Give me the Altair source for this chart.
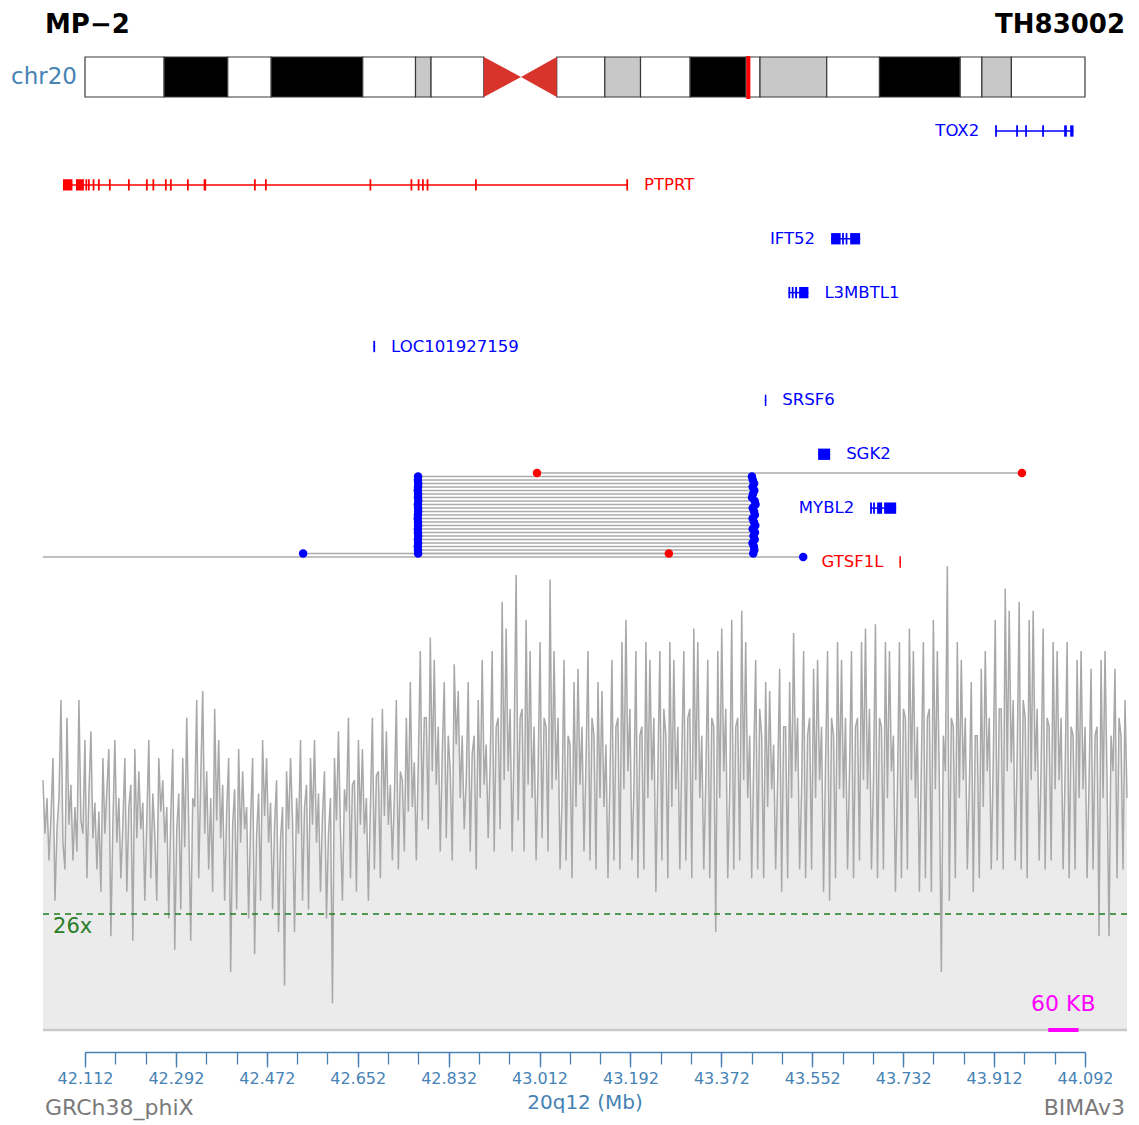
import altair as alt
import numpy as np
import pandas as pd

W, H = 1139, 1125
FONT = "DejaVu Sans"
STEEL = "#4682b4"

# ---------------- chromosome 20 ideogram (Mb) ----------------
band_start = [0.0, 5.1, 9.2, 12.0, 17.9, 21.3, 22.3, 30.4, 33.5, 35.8, 39.0, 42.6, 43.5, 47.8, 51.2, 56.4, 57.8, 59.7]
band_end = [5.1, 9.2, 12.0, 17.9, 21.3, 22.3, 25.7, 33.5, 35.8, 39.0, 42.6, 43.5, 47.8, 51.2, 56.4, 57.8, 59.7, 64.444]
band_stain = ["gneg", "gpos75", "gneg", "gpos75", "gneg", "gpos25", "gneg", "gneg", "gpos25",
              "gneg", "gpos75", "gneg", "gpos25", "gneg", "gpos75", "gneg", "gpos25", "gneg"]
stain_color = {"gneg": "#ffffff", "gpos25": "#c8c8c8", "gpos75": "#000000"}
cen_pos = [25.7, 28.1, 30.4]          # centromere: p-arm edge, waist, q-arm edge
region_mark = 42.75                   # displayed region on the ideogram
chrom_len = 64.444

# ---------------- genes (Mb) ----------------
genes = ["TOX2", "PTPRT", "IFT52", "L3MBTL1", "LOC101927159", "SRSF6", "SGK2", "MYBL2", "GTSF1L"]
gene_lane = [0, 1, 2, 3, 4, 5, 6, 7, 8]
gene_start = [43.9140, 42.0685, 43.5892, 43.5047, 42.6830, 43.4580, 43.5635, 43.6665, 43.7245]
gene_end = [44.0691, 43.1873, 43.6467, 43.5443, 42.6865, 43.4610, 43.5873, 43.7180, 43.7275]
gene_strand = ["+", "-", "+", "+", "+", "+", "+", "+", "-"]
label_side = ["left", "right", "left", "right", "right", "right", "right", "left", "left"]
exons = {
    "TOX2": [(43.9140, 43.9175), (43.9556, 43.9591), (43.9734, 43.9769), (44.0071, 44.0106),
             (44.0506, 44.0559), (44.0625, 44.0691)],
    "PTPRT": [(42.0685, 42.0873), (42.0942, 42.1100), (42.1130, 42.1165), (42.1180, 42.1215),
              (42.1273, 42.1308), (42.1378, 42.1413), (42.1595, 42.1630), (42.1972, 42.2007),
              (42.2328, 42.2363), (42.2457, 42.2492), (42.2704, 42.2739), (42.2803, 42.2838),
              (42.3140, 42.3175), (42.3470, 42.3520), (42.4467, 42.4502), (42.4685, 42.4720),
              (42.6754, 42.6789), (42.7566, 42.7601), (42.7708, 42.7743), (42.7793, 42.7828),
              (42.7885, 42.7920), (42.8843, 42.8878), (43.1838, 43.1873)],
    "IFT52": [(43.5892, 43.6081), (43.6110, 43.6145), (43.6180, 43.6215), (43.6269, 43.6467)],
    "L3MBTL1": [(43.5047, 43.5082), (43.5114, 43.5149), (43.5180, 43.5219), (43.5259, 43.5443)],
    "LOC101927159": [(42.6830, 42.6865)],
    "SRSF6": [(43.4580, 43.4610)],
    "SGK2": [(43.5635, 43.5873)],
    "MYBL2": [(43.6665, 43.6700), (43.6724, 43.6759), (43.6803, 43.6902), (43.6942, 43.7180)],
    "GTSF1L": [(43.7245, 43.7275)],
}

# ---------------- read pairs (Mb) ----------------
pair_row = [0] + list(range(1, 24)) + [23, 24]
pair_start = [43.007,
              42.7715, 42.7712, 42.7718, 42.7714, 42.7710, 42.7716, 42.7713, 42.7719, 42.7711,
              42.7715, 42.7717, 42.7712, 42.7709, 42.7714, 42.7716, 42.7711, 42.7713, 42.7718,
              42.7712, 42.7715, 42.7710, 42.7714, 42.7716,
              42.544, 42.029]
pair_end = [43.967,
            43.4325, 43.4342, 43.4368, 43.4339, 43.4372, 43.4345, 43.4327, 43.4380, 43.4396,
            43.4341, 43.4367, 43.4383, 43.4338, 43.4364, 43.4391, 43.4340, 43.4385, 43.4356,
            43.4379, 43.4336, 43.4363, 43.4372, 43.4351,
            43.268, 43.534]
pair_left_end = ["red"] + ["blue"] * 23 + ["blue", "none"]
pair_right_end = ["red"] + ["blue"] * 23 + ["red", "blue"]

# ---------------- read depth (x), evenly spaced bins ----------------
cov_first, cov_last = 42.029, 44.175
depth = [
    56, 44, 52, 38, 48, 61, 29, 45, 52, 74, 42, 36, 70, 46, 55, 38, 50, 40, 74, 47,
    44, 65, 34, 53, 67, 43, 51, 36, 49, 31, 61, 44, 54, 63, 21, 46, 65, 42, 52, 34,
    46, 61, 31, 50, 55, 20, 63, 43, 58, 45, 51, 29, 47, 65, 34, 53, 44, 29, 61, 49,
    56, 42, 50, 25, 48, 63, 18, 45, 53, 27, 61, 41, 70, 46, 20, 52, 50, 74, 34, 56,
    76, 44, 58, 36, 52, 31, 72, 47, 65, 43, 55, 29, 49, 61, 13, 46, 54, 27, 63, 42,
    58, 45, 50, 25, 47, 61, 17, 44, 53, 29, 65, 48, 61, 42, 51, 27, 46, 56, 22, 43,
    50, 10, 58, 45, 61, 47, 22, 52, 44, 65, 29, 50, 55, 27, 61, 46, 65, 42, 53, 31,
    48, 58, 25, 44, 52, 6, 61, 47, 67, 45, 29, 54, 49, 70, 34, 55, 56, 31, 65, 46,
    63, 44, 52, 29, 50, 70, 36, 57, 58, 34, 72, 48, 67, 46, 55, 38, 52, 74, 36, 58,
    56, 40, 70, 49, 78, 50, 60, 38,
    60, 85, 47, 70, 70, 45, 88, 58, 83, 55, 68, 40, 62, 78, 43, 66, 58, 38, 82, 64,
    76, 52, 66, 45, 56, 78, 40, 62, 66, 36, 74, 52, 83, 55, 64, 43, 60, 85, 40, 68,
    70, 45, 96, 56, 90, 58, 72, 40, 64, 102, 47, 70, 72, 40, 92, 55, 85, 52, 68, 38,
    58, 87, 43, 70, 68, 40, 101, 54, 85, 56, 70, 36, 52, 83, 38, 66, 64, 34, 78, 50,
    81, 55, 68, 40, 60, 85, 38, 70, 66, 36, 78, 52, 76, 50, 64, 34, 56, 83, 38, 68,
    70, 36, 87, 54, 92, 58, 72, 38, 54, 85, 34, 66, 68, 36, 87, 52, 83, 56, 70, 31,
    58, 85, 38, 72, 66, 34, 87, 50, 83, 54, 68, 36, 62, 85, 38, 70, 72, 34, 90, 56,
    87, 52, 66, 36, 56, 83, 34, 70, 68, 22, 85, 52, 90, 58, 72, 34, 54, 92, 36, 68,
    70, 38, 94, 56, 87, 52, 66, 34, 60, 83, 36, 72, 66, 34, 78, 50, 76, 54, 64, 36,
    56, 81, 31, 68, 68, 34, 78, 52, 89, 58, 70, 36, 54, 85, 34, 66, 70, 36, 81, 52,
    83, 56, 68, 31, 60, 85, 29, 70, 66, 34, 87, 54, 83, 52, 70, 36, 58, 85, 34, 68,
    70, 38, 87, 56, 90, 54, 72, 36, 56, 91, 34, 70, 68, 36, 87, 52, 85, 58, 66, 31,
    54, 87, 34, 72, 70, 36, 90, 56, 85, 52, 68, 31, 60, 87, 34, 70, 72, 31, 92, 54,
    85, 56, 13, 66, 58, 104, 29, 70, 68, 34, 87, 52, 83, 56, 70, 36, 54, 78, 31, 66,
    66, 34, 81, 50, 85, 58, 70, 36, 60, 92, 38, 72, 72, 36, 99, 58, 94, 60, 74, 38,
    62, 96, 36, 74, 70, 34, 92, 56, 94, 58, 72, 38, 60, 90, 36, 70, 68, 38, 87, 54,
    85, 56, 70, 36, 58, 87, 34, 68, 66, 36, 83, 52, 85, 54, 68, 34, 56, 81, 36, 66,
    68, 21, 83, 52, 85, 56, 21, 66, 58, 81, 34, 70, 66, 36, 74, 52,
]
min_depth = 26
scale_bar_start, scale_bar_kb = 44.019, 60

# ---------------- axis ----------------
axis_first, axis_last = 42.112, 44.092
major_ticks = [42.112, 42.292, 42.472, 42.652, 42.832, 43.012, 43.192, 43.372, 43.552, 43.732, 43.912, 44.092]
minor_step = 0.06

# ---------------- scales ----------------
ideo_x = alt.Scale(domain=[0, chrom_len], range=[85, 1085])
ideo_y = alt.Scale(domain=[0, 1], range=[57, 97])
gx = alt.Scale(domain=[cov_first, cov_last], range=[43, 1127])
lane_y = alt.Scale(domain=[0, 8], range=[131, 562])
row_y = alt.Scale(domain=[0, 24], range=[473, 557])
cov_y = alt.Scale(domain=[0, 105], range=[1030, 561.7])
axis_x = alt.Scale(domain=[axis_first, axis_last], range=[85, 1085])


def qx(field, scale):
    return alt.X(field, type="quantitative", scale=scale, axis=None)


def qy(field, scale):
    return alt.Y(field, type="quantitative", scale=scale, axis=None)


layers = []

# ideogram bands
bands = pd.DataFrame({"start": band_start, "end": band_end,
                      "fill": [stain_color[s] for s in band_stain]})
layers.append(
    alt.Chart(bands).mark_rect(stroke="#3a3a3a", strokeWidth=1.2).encode(
        x=qx("start", ideo_x), x2="end",
        y=alt.YDatum(0, type="quantitative", scale=ideo_y, axis=None), y2=alt.Y2Datum(1),
        color=alt.Color("fill:N", scale=None))
)
cen = pd.DataFrame({"pos": cen_pos, "top": [0, 0.5, 0], "bottom": [1, 0.5, 1]})
layers.append(
    alt.Chart(cen).mark_area(color="#d9342b", interpolate="linear").encode(
        x=qx("pos", ideo_x), y=qy("top", ideo_y), y2="bottom")
)
layers.append(
    alt.Chart(pd.DataFrame({"pos": [region_mark]})).mark_rule(color="#ff0000", strokeWidth=4).encode(
        x=qx("pos", ideo_x),
        y=alt.YDatum(-0.02, type="quantitative", scale=ideo_y, axis=None), y2=alt.Y2Datum(1.05))
)


def label_layer(text, x, y, size, color, align="left", baseline="middle", weight="normal"):
    return alt.Chart(pd.DataFrame({"t": [text]})).mark_text(
        align=align, baseline=baseline, font=FONT, fontSize=size, color=color, fontWeight=weight
    ).encode(text="t:N", x=alt.value(x), y=alt.value(y))


# header texts
layers.append(label_layer("MP\u22122", 45, 25, 26, "#000000", weight="bold"))
layers.append(label_layer("TH83002", 1125, 25, 26, "#000000", align="right", weight="bold"))
layers.append(label_layer("chr20", 77, 77, 23, STEEL, align="right"))

# read depth: shaded area + trace
cov_pos = np.linspace(cov_first, cov_last, len(depth))
cov = pd.DataFrame({"pos": cov_pos, "depth": depth})
layers.append(
    alt.Chart(cov).mark_area(color="#ebebeb", interpolate="linear").encode(
        x=qx("pos", gx), y=qy("depth", cov_y))
)
layers.append(
    alt.Chart(cov).mark_line(color="#a8a8a8", strokeWidth=1.5).encode(
        x=qx("pos", gx), y=qy("depth", cov_y))
)
layers.append(
    alt.Chart(pd.DataFrame({"a": [cov_first], "b": [cov_last]})).mark_rule(
        color="#c9c9c9", strokeWidth=2.5).encode(
        x=qx("a", gx), x2="b", y=alt.YDatum(0, type="quantitative", scale=cov_y, axis=None))
)
layers.append(
    alt.Chart(pd.DataFrame({"a": [cov_first], "b": [cov_last], "d": [min_depth]})).mark_rule(
        color="#1e7d1e", strokeWidth=1.5, strokeDash=[6, 5]).encode(
        x=qx("a", gx), x2="b", y=qy("d", cov_y))
)
layers.append(
    alt.Chart(pd.DataFrame({"a": [cov_first + 0.02], "d": [min_depth], "t": [f"{min_depth}x"]})).mark_text(
        align="left", baseline="top", dy=2, font=FONT, fontSize=21, color="#2a7d2a").encode(
        x=qx("a", gx), y=qy("d", cov_y), text="t:N")
)
sb = pd.DataFrame({"a": [scale_bar_start], "b": [scale_bar_start + scale_bar_kb / 1000],
                   "m": [scale_bar_start + scale_bar_kb / 2000], "t": [f"{scale_bar_kb} KB"]})
layers.append(
    alt.Chart(sb).mark_rule(color="#ff00ff", strokeWidth=4).encode(
        x=qx("a", gx), x2="b", y=alt.YDatum(0, type="quantitative", scale=cov_y, axis=None))
)
layers.append(
    alt.Chart(sb).mark_text(baseline="middle", dy=-26, font=FONT, fontSize=22, color="#ff00ff").encode(
        x=qx("m", gx), y=alt.YDatum(0, type="quantitative", scale=cov_y, axis=None), text="t:N")
)

# genes
strand_color = {"+": "#0000ff", "-": "#ff0000"}
gdf = pd.DataFrame({"gene": genes, "lane": gene_lane, "start": gene_start, "end": gene_end,
                    "color": [strand_color[s] for s in gene_strand], "side": label_side})
rows = []
for g, lane, s in zip(genes, gene_lane, gene_strand):
    for a, b in exons[g]:
        rows.append({"gene": g, "a": a, "b": b, "top": lane - 0.105, "bottom": lane + 0.105,
                     "color": strand_color[s]})
edf = pd.DataFrame(rows)
layers.append(
    alt.Chart(gdf).mark_rule(strokeWidth=1.5).encode(
        x=qx("start", gx), x2="end", y=qy("lane", lane_y), color=alt.Color("color:N", scale=None))
)
layers.append(
    alt.Chart(edf).mark_rect().encode(
        x=qx("a", gx), x2="b", y=qy("top", lane_y), y2="bottom", color=alt.Color("color:N", scale=None))
)
layers.append(
    alt.Chart(gdf[gdf.side == "right"]).mark_text(align="left", baseline="middle", dx=16, font=FONT,
                                                  fontSize=16.5).encode(
        x=qx("end", gx), y=qy("lane", lane_y), text="gene:N", color=alt.Color("color:N", scale=None))
)
layers.append(
    alt.Chart(gdf[gdf.side == "left"]).mark_text(align="right", baseline="middle", dx=-16, font=FONT,
                                                 fontSize=16.5).encode(
        x=qx("start", gx), y=qy("lane", lane_y), text="gene:N", color=alt.Color("color:N", scale=None))
)

# read pairs
pdf = pd.DataFrame({"row": pair_row, "start": pair_start, "end": pair_end})
layers.append(
    alt.Chart(pdf).mark_rule(color="#ababab", strokeWidth=1.5).encode(
        x=qx("start", gx), x2="end", y=qy("row", row_y))
)
ends = pd.DataFrame({
    "row": pair_row + pair_row,
    "pos": pair_start + pair_end,
    "kind": pair_left_end + pair_right_end,
})
ends = ends[ends.kind != "none"]
ends["color"] = ends.kind.map({"red": "#ff0000", "blue": "#0000ff"})
layers.append(
    alt.Chart(ends).mark_circle(size=72, opacity=1).encode(
        x=qx("pos", gx), y=qy("row", row_y), color=alt.Color("color:N", scale=None))
)

# position axis
minor_ticks = [round(axis_first + minor_step * k, 3)
               for k in range(int(round((axis_last - axis_first) / minor_step)) + 1)]
layers.append(
    alt.Chart(pd.DataFrame({"t": minor_ticks})).mark_point(opacity=0).encode(
        x=alt.X("t:Q", scale=axis_x, axis=alt.Axis(
            orient="bottom", offset=-73, values=minor_ticks, labels=False, domain=False,
            tickSize=12, tickWidth=1.3, tickColor=STEEL, grid=False, title=None)))
)
layers.append(
    alt.Chart(pd.DataFrame({"t": major_ticks})).mark_point(opacity=0).encode(
        x=alt.X("t:Q", scale=axis_x, axis=alt.Axis(
            orient="bottom", offset=-73, values=major_ticks, format=".3f", tickSize=15,
            tickWidth=1.3, tickColor=STEEL, domain=True, domainColor=STEEL, domainWidth=1.5,
            labelColor=STEEL, labelFont=FONT, labelFontSize=16, labelPadding=3,
            labelFlush=False, labelOverlap=False, grid=False, title=None)))
)
layers.append(label_layer("20q12 (Mb)", 585, 1103, 20, STEEL, align="center"))
layers.append(label_layer("GRCh38_phiX", 45, 1108, 22, "#7a7a7a"))
layers.append(label_layer("BIMAv3", 1125, 1108, 22, "#7a7a7a", align="right"))

chart = alt.layer(*layers).resolve_scale(
    x="independent", y="independent", color="independent"
).properties(
    width=W, height=H, padding=0, autosize="none", background="#ffffff"
).configure_view(stroke=None)

chart.save("out.html", embed_options={"renderer": "svg", "actions": False})
